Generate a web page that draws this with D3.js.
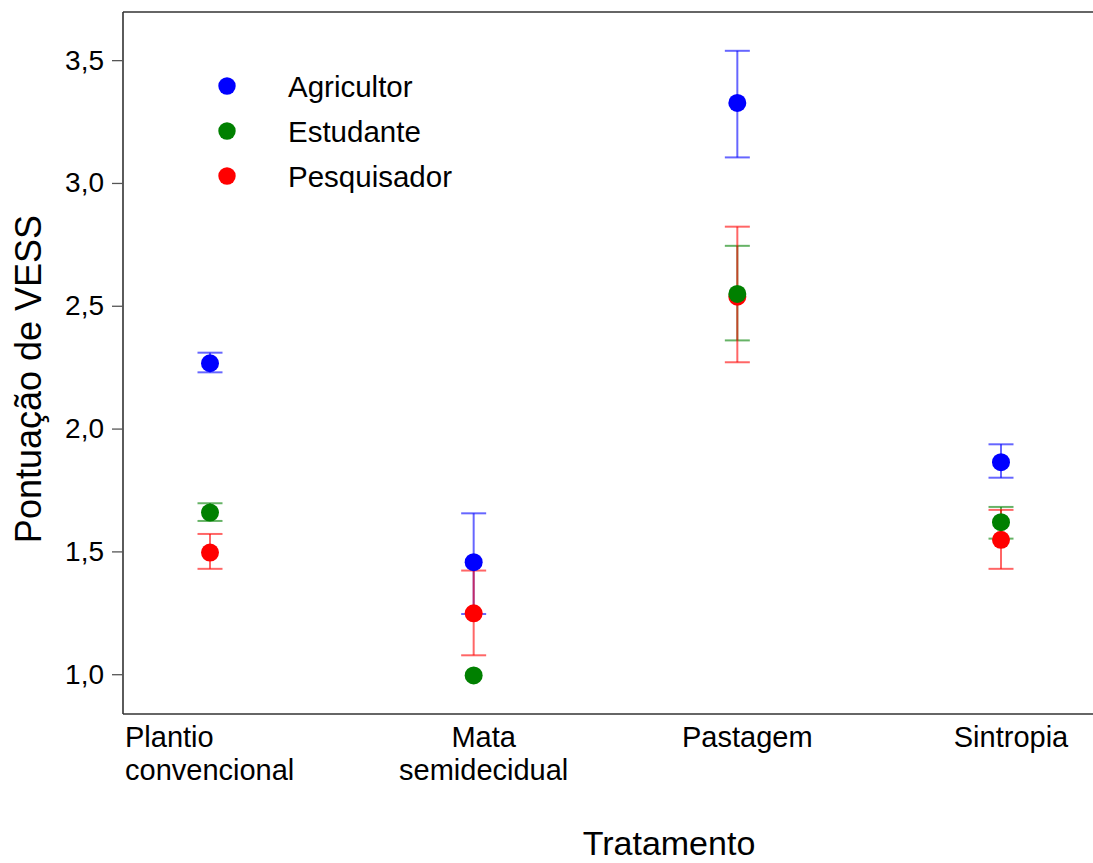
<!DOCTYPE html>
<html>
<head>
<meta charset="utf-8">
<script src="https://cdn.jsdelivr.net/npm/d3@7/dist/d3.min.js"></script>
<style>
  html, body { margin: 0; padding: 0; background: #fff; }
  text { font-family: "Liberation Sans", Arial, sans-serif; fill: #000; }
</style>
</head>
<body>
<svg id="chart" width="1093" height="863"></svg>
<script>
// ---- Data ----
const categories = ["Plantio convencional", "Mata semidecidual", "Pastagem", "Sintropia"];
const seriesNames = ["Agricultor", "Estudante", "Pesquisador"];
const seriesColors = ["#0000ff", "#008000", "#ff0000"];

const agricultorMean  = [2.266, 1.456, 3.326, 1.863];
const agricultorUpper = [2.309, 1.655, 3.538, 1.936];
const agricultorLower = [2.229, 1.245, 3.104, 1.800];

const estudanteMean  = [1.658, 0.995, 2.548, 1.619];
const estudanteUpper = [1.696, null, 2.744, 1.681];
const estudanteLower = [1.624, null, 2.359, 1.552];

const pesquisadorMean  = [1.495, 1.248, 2.537, 1.547];
const pesquisadorUpper = [1.571, 1.422, 2.822, 1.669];
const pesquisadorLower = [1.429, 1.077, 2.270, 1.429];

const yTicks = [1.0, 1.5, 2.0, 2.5, 3.0, 3.5];
const yTitle = "Pontuação de VESS";
const xTitle = "Tratamento";

const series = [
  { name: seriesNames[0], color: seriesColors[0], mean: agricultorMean,  upper: agricultorUpper,  lower: agricultorLower },
  { name: seriesNames[1], color: seriesColors[1], mean: estudanteMean,   upper: estudanteUpper,   lower: estudanteLower },
  { name: seriesNames[2], color: seriesColors[2], mean: pesquisadorMean, upper: pesquisadorUpper, lower: pesquisadorLower }
];
// drawing order for dots (Estudante drawn last)
const drawOrder = [0, 2, 1];

// ---- Layout ----
const svg = d3.select("#chart");
const plot = { left: 123, right: 1093, top: 12, bottom: 714 };

const x = d3.scalePoint().domain(categories).range([210, 1001]);
const y = d3.scaleLinear().domain([0.838, 3.696]).range([plot.bottom, plot.top]);

const frame = "#333";

// frame lines: top, bottom
svg.append("line").attr("x1", plot.left).attr("x2", plot.right).attr("y1", plot.top).attr("y2", plot.top)
  .attr("stroke", frame).attr("stroke-width", 1.6);
svg.append("line").attr("x1", plot.left).attr("x2", plot.right).attr("y1", plot.bottom).attr("y2", plot.bottom)
  .attr("stroke", frame).attr("stroke-width", 1.6);

// y axis
const yAxis = d3.axisLeft(y).tickValues(yTicks).tickSize(11).tickPadding(8)
  .tickFormat(d => d3.format(".1f")(d).replace(".", ","));
const gy = svg.append("g").attr("transform", `translate(${plot.left},0)`).call(yAxis);
gy.select(".domain").attr("d", `M0,${plot.top}V${plot.bottom}`).attr("stroke", frame).attr("stroke-width", 1.6);
gy.selectAll(".tick line").attr("stroke", "#555").attr("stroke-width", 1.3);
gy.selectAll(".tick text").attr("font-size", 28).attr("font-family", "Liberation Sans, Arial, sans-serif").attr("fill", "#000");

// x tick labels
const xl = svg.append("g");
categories.forEach((c, i) => {
  const words = c.split(" ");
  const first = i === 0;
  const t = xl.append("text")
    .attr("font-size", 29)
    .attr("text-anchor", first ? "start" : "middle");
  const tx = first ? x(c) - 85 : x(c) + 10;
  words.forEach((w, k) => {
    t.append("tspan").attr("x", tx).attr("y", 747 + k * 33).text(w);
  });
});

// axis titles
svg.append("text")
  .attr("transform", `translate(41,379) rotate(-90)`)
  .attr("text-anchor", "middle")
  .attr("font-size", 36)
  .text(yTitle);
svg.append("text")
  .attr("x", 669).attr("y", 855)
  .attr("text-anchor", "middle")
  .attr("font-size", 34)
  .text(xTitle);

// error bars
const capHalf = 12.5;
const eb = svg.append("g");
series.forEach(s => {
  categories.forEach((c, i) => {
    if (s.upper[i] == null || s.lower[i] == null) return;
    const cx = x(c);
    const g = eb.append("g").attr("stroke", s.color).attr("stroke-opacity", 0.6).attr("stroke-width", 2);
    g.append("line").attr("x1", cx).attr("x2", cx).attr("y1", y(s.upper[i])).attr("y2", y(s.lower[i]));
    g.append("line").attr("x1", cx - capHalf).attr("x2", cx + capHalf).attr("y1", y(s.upper[i])).attr("y2", y(s.upper[i]));
    g.append("line").attr("x1", cx - capHalf).attr("x2", cx + capHalf).attr("y1", y(s.lower[i])).attr("y2", y(s.lower[i]));
  });
});

// dots
const dots = svg.append("g");
drawOrder.forEach(si => {
  const s = series[si];
  dots.selectAll(null).data(s.mean).enter().append("circle")
    .attr("cx", (d, i) => x(categories[i]))
    .attr("cy", d => y(d))
    .attr("r", 9)
    .attr("fill", s.color);
});

// legend
const legend = svg.append("g");
series.forEach((s, i) => {
  const ly = 86 + i * 45;
  legend.append("circle").attr("cx", 227).attr("cy", ly).attr("r", 8.7).attr("fill", s.color);
  legend.append("text").attr("x", 288).attr("y", ly + 10.5).attr("font-size", 29.5).text(s.name);
});
</script>
</body>
</html>
